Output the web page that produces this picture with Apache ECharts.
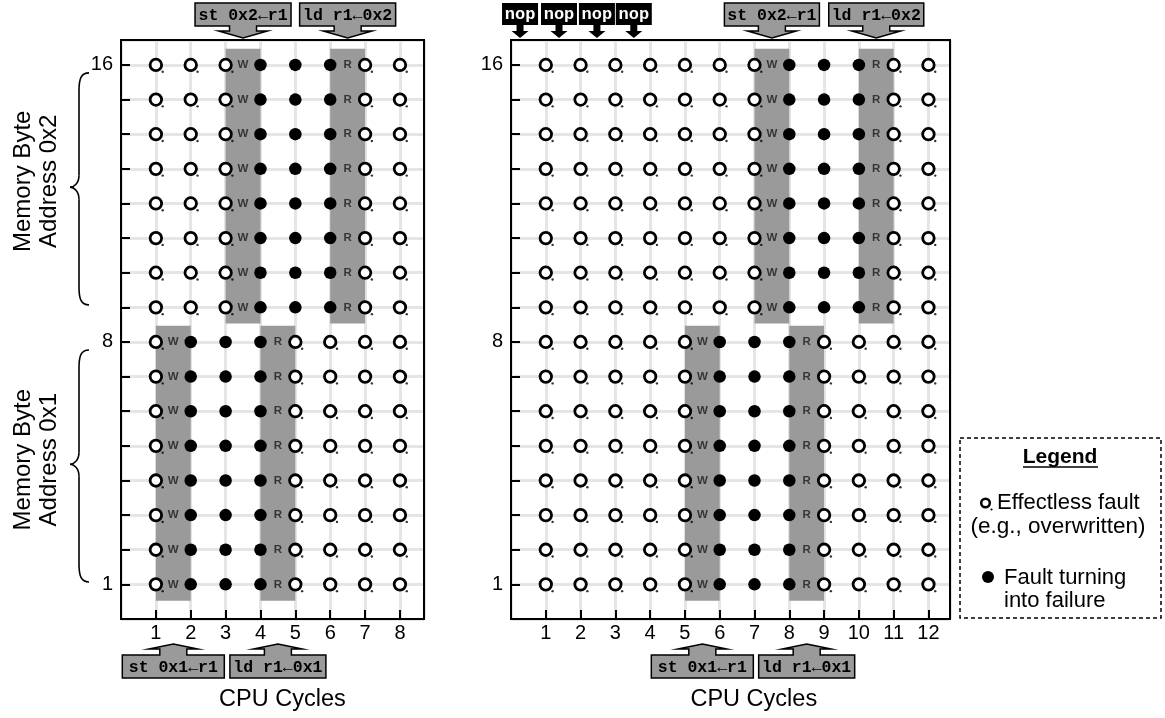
<!DOCTYPE html>
<html><head><meta charset="utf-8">
<script src="https://cdn.jsdelivr.net/npm/echarts@6/dist/echarts.min.js"></script>
<style>html,body{margin:0;padding:0;background:#fff}#c{width:1165px;height:718px}</style>
</head><body><div id="c"></div>
<script>
// ---------- data ----------
const rowsLow = [1, 2, 3, 4, 5, 6, 7, 8];          // memory byte address 0x1 bits
const rowsHigh = [9, 10, 11, 12, 13, 14, 15, 16];  // memory byte address 0x2 bits
const yTickLabels = [1, 8, 16];

// left panel (8 cycles)
const leftCycles = [1, 2, 3, 4, 5, 6, 7, 8];
const leftHighOpen = [1, 2, 3, 7, 8];
const leftHighFilled = [4, 5, 6];
const leftLowOpen = [1, 5, 6, 7, 8];
const leftLowFilled = [2, 3, 4];
const leftWindows = [[3, 4, 'high', 'W'], [6, 7, 'high', 'R'], [1, 2, 'low', 'W'], [4, 5, 'low', 'R']];
const leftTopInstr = [['st 0x2\u2190r1', 3.5], ['ld r1\u21900x2', 6.5]];
const leftBottomInstr = [['st 0x1\u2190r1', 1.5], ['ld r1\u21900x1', 4.5]];

// right panel (12 cycles, 4 nops first)
const rightCycles = [1, 2, 3, 4, 5, 6, 7, 8, 9, 10, 11, 12];
const rightHighOpen = [1, 2, 3, 4, 5, 6, 7, 11, 12];
const rightHighFilled = [8, 9, 10];
const rightLowOpen = [1, 2, 3, 4, 5, 9, 10, 11, 12];
const rightLowFilled = [6, 7, 8];
const rightWindows = [[7, 8, 'high', 'W'], [10, 11, 'high', 'R'], [5, 6, 'low', 'W'], [8, 9, 'low', 'R']];
const rightTopInstr = [['st 0x2\u2190r1', 7.5], ['ld r1\u21900x2', 10.5]];
const rightBottomInstr = [['st 0x1\u2190r1', 5.5], ['ld r1\u21900x1', 8.5]];
const nopX = [0.26, 1.38, 2.47, 3.53];

// shaded window vertical extents
const bandY = { high: [8.53, 16.47], low: [0.53, 8.47] };
const yMax = 16.72;
const xMaxes = [8.69, 12.62];

// ---------- build ----------
const SANS = 'Liberation Sans, Arial, sans-serif';
const MONO = 'Liberation Mono, Courier New, monospace';

function grid(cols, rows) { const out = []; rows.forEach(r => cols.forEach(c => out.push([c, r]))); return out; }
function winRects(wins) { return wins.map(w => [w[0], w[1], bandY[w[2]][0], bandY[w[2]][1]]); }
function winLabels(wins) {
  const out = [];
  wins.forEach(w => (w[2] === 'high' ? rowsHigh : rowsLow).forEach(r => out.push([(w[0] + w[1]) / 2, r, w[3]])));
  return out;
}

function panelSeries(g, highOpen, highFilled, lowOpen, lowFilled, wins) {
  const open = grid(highOpen, rowsHigh).concat(grid(lowOpen, rowsLow));
  const filled = grid(highFilled, rowsHigh).concat(grid(lowFilled, rowsLow));
  return [
    {
      type: 'custom', xAxisIndex: g, yAxisIndex: g, silent: true, z: 2,
      dimensions: ['x0', 'x1', 'y0', 'y1'], encode: { x: [0, 1], y: [2, 3] },
      data: winRects(wins),
      renderItem(params, api) {
        const a = api.coord([api.value(0), api.value(3)]);
        const b = api.coord([api.value(1), api.value(2)]);
        return { type: 'rect', shape: { x: a[0], y: a[1], width: b[0] - a[0], height: b[1] - a[1] }, style: { fill: '#9a9a9a' } };
      }
    },
    {
      type: 'scatter', xAxisIndex: g, yAxisIndex: g, silent: true, z: 3, data: open,
      symbol: 'circle', symbolSize: 2.4, symbolOffset: [6.8, 6.8], itemStyle: { color: '#000' }
    },
    {
      type: 'scatter', xAxisIndex: g, yAxisIndex: g, silent: true, z: 4, data: open,
      symbol: 'circle', symbolSize: 11.5, itemStyle: { color: '#fff', borderColor: '#000', borderWidth: 2.8, opacity: 1 }
    },
    {
      type: 'scatter', xAxisIndex: g, yAxisIndex: g, silent: true, z: 4, data: filled,
      symbol: 'circle', symbolSize: 12.5, itemStyle: { color: '#000', opacity: 1 }
    },
    {
      type: 'scatter', xAxisIndex: g, yAxisIndex: g, silent: true, z: 5, data: winLabels(wins),
      symbol: 'circle', symbolSize: 1, itemStyle: { color: 'rgba(0,0,0,0)' },
      label: { show: true, position: 'inside', formatter: p => p.value[2], fontFamily: SANS, fontWeight: 'bold', fontSize: 11.5, color: '#1a1a1a' }
    }
  ];
}

function xAxis(g, cycles) {
  return {
    gridIndex: g, type: 'value', min: 0, max: xMaxes[g], interval: 1,
    axisLine: { show: false },
    axisTick: { show: true, inside: true, length: 9, lineStyle: { color: '#000', width: 2 } },
    axisLabel: { formatter: v => cycles.includes(v) ? String(v) : '', fontFamily: SANS, fontSize: 20, color: '#000', margin: 4 },
    splitLine: { show: true, lineStyle: { color: '#e5e5e5', width: 3 } }
  };
}
function yAxis(g) {
  return {
    gridIndex: g, type: 'value', min: 0, max: yMax, interval: 1,
    axisLine: { show: false },
    axisTick: { show: true, inside: true, length: 9, lineStyle: { color: '#000', width: 2 } },
    axisLabel: { formatter: v => yTickLabels.includes(v) ? String(v) : '', fontFamily: SANS, fontSize: 20, color: '#000', margin: 8 },
    splitLine: { show: true, lineStyle: { color: '#e5e5e5', width: 3 } }
  };
}

const chart = echarts.init(document.getElementById('c'), null, { renderer: 'canvas' });
chart.setOption({
  animation: false,
  backgroundColor: '#fff',
  grid: [
    { left: 121, top: 40, width: 303, height: 579, outerBoundsMode: 'none' },
    { left: 511, top: 40, width: 439, height: 579, outerBoundsMode: 'none' }
  ],
  xAxis: [xAxis(0, leftCycles), xAxis(1, rightCycles)],
  yAxis: [yAxis(0), yAxis(1)],
  series: [].concat(
    panelSeries(0, leftHighOpen, leftHighFilled, leftLowOpen, leftLowFilled, leftWindows),
    panelSeries(1, rightHighOpen, rightHighFilled, rightLowOpen, rightLowFilled, rightWindows)
  )
});

// ---------- annotations (positioned through the axes) ----------
const P = (g, x, y) => chart.convertToPixel({ gridIndex: g }, [x, y]);
const G = [];

[0, 1].forEach(g => {
  const a = P(g, 0, yMax), b = P(g, xMaxes[g], 0);
  G.push({ type: 'rect', z: 100, shape: { x: a[0], y: a[1], width: b[0] - a[0], height: b[1] - a[1] },
    style: { fill: null, stroke: '#000', lineWidth: 2 } });
});

function downBox(g, x, text, w) {
  const top = P(g, 0, yMax)[1];
  const cx = P(g, x, 0)[0];
  const y0 = top - 37, y1 = top - 14, s = 13.5, h = 24.5;
  const pts = [[cx - w / 2, y0], [cx + w / 2, y0], [cx + w / 2, y1], [cx + s, y1], [cx + s, y1 + 5], [cx + h, y1 + 5],
    [cx, top - 2], [cx - h, y1 + 5], [cx - s, y1 + 5], [cx - s, y1], [cx - w / 2, y1]];
  G.push({ type: 'polygon', z: 50, shape: { points: pts }, style: { fill: '#9a9a9a', stroke: '#000', lineWidth: 1.5 } });
  G.push({ type: 'text', z: 51, x: cx, y: (y0 + y1) / 2 + 1, style: { text, font: 'bold 16.5px ' + MONO, fill: '#000', align: 'center', verticalAlign: 'middle' } });
}
function upBox(g, x, text, w) {
  const bot = P(g, 0, 0)[1];
  const cx = P(g, x, 0)[0];
  const tip = bot + 25, hb = tip + 5, y0 = bot + 36, y1 = bot + 59, s = 13.5, h = 24.5;
  const pts = [[cx, tip], [cx + h, hb], [cx + s, hb], [cx + s, y0], [cx + w / 2, y0], [cx + w / 2, y1], [cx - w / 2, y1],
    [cx - w / 2, y0], [cx - s, y0], [cx - s, hb], [cx - h, hb]];
  G.push({ type: 'polygon', z: 50, shape: { points: pts }, style: { fill: '#9a9a9a', stroke: '#000', lineWidth: 1.5 } });
  G.push({ type: 'text', z: 51, x: cx, y: (y0 + y1) / 2 + 1, style: { text, font: 'bold 16.5px ' + MONO, fill: '#000', align: 'center', verticalAlign: 'middle' } });
}
function nopBox(g, x) {
  const top = P(g, 0, yMax)[1];
  const cx = P(g, x, 0)[0];
  const y0 = top - 37, y1 = top - 15, w = 36, s = 3.5, h = 8.5;
  G.push({ type: 'rect', z: 50, shape: { x: cx - w / 2, y: y0, width: w, height: y1 - y0 }, style: { fill: '#000' } });
  G.push({ type: 'polygon', z: 50, shape: { points: [[cx - s, y1 - 1], [cx + s, y1 - 1], [cx + s, y1 + 6], [cx + h, y1 + 6], [cx, top - 2], [cx - h, y1 + 6], [cx - s, y1 + 6]] }, style: { fill: '#000' } });
  G.push({ type: 'text', z: 51, x: cx, y: (y0 + y1) / 2 + 1, style: { text: 'nop', font: 'bold 17px ' + MONO, fill: '#fff', align: 'center', verticalAlign: 'middle' } });
}

leftTopInstr.forEach(d => downBox(0, d[1], d[0], 96));
rightTopInstr.forEach(d => downBox(1, d[1], d[0], 95));
leftBottomInstr.forEach((d, i) => upBox(0, d[1], d[0], i === 0 ? 102 : 96));
rightBottomInstr.forEach((d, i) => upBox(1, d[1], d[0], i === 0 ? 102 : 96));
nopX.forEach(x => nopBox(1, x));

// braces (two straight runs + four curves) and y titles
function brace(yTop, yBot, yMid) {
  const left = P(0, 0, 0)[0];
  const y1 = P(0, 0, yTop)[1], y2 = P(0, 0, yBot)[1], ym = P(0, 0, yMid)[1];
  const xr = left - 32, xv = left - 42, xt = left - 51;
  const st = { fill: null, stroke: '#000', lineWidth: 1.6 };
  G.push({ type: 'bezierCurve', z: 50, shape: { x1: xr, y1: y1, cpx1: xv + 2, cpy1: y1, cpx2: xv, cpy2: y1 + 6, x2: xv, y2: y1 + 18 }, style: st });
  G.push({ type: 'line', z: 50, shape: { x1: xv, y1: y1 + 18, x2: xv, y2: ym - 12 }, style: st });
  G.push({ type: 'bezierCurve', z: 50, shape: { x1: xv, y1: ym - 12, cpx1: xv, cpy1: ym - 4, cpx2: xt + 4, cpy2: ym, x2: xt, y2: ym }, style: st });
  G.push({ type: 'bezierCurve', z: 50, shape: { x1: xt, y1: ym, cpx1: xt + 4, cpy1: ym, cpx2: xv, cpy2: ym + 4, x2: xv, y2: ym + 12 }, style: st });
  G.push({ type: 'line', z: 50, shape: { x1: xv, y1: ym + 12, x2: xv, y2: y2 - 18 }, style: st });
  G.push({ type: 'bezierCurve', z: 50, shape: { x1: xv, y1: y2 - 18, cpx1: xv, cpy1: y2 - 6, cpx2: xv + 2, cpy2: y2, x2: xr, y2: y2 }, style: st });
}
brace(15.77, 9.07, 12.47);
brace(7.77, 1.07, 4.47);
[['Memory Byte\nAddress 0x2', 12.64], ['Memory Byte\nAddress 0x1', 4.6]].forEach(d => {
  const y = P(0, 0, d[1])[1];
  G.push({ type: 'text', z: 50, x: 36, y, rotation: Math.PI / 2,
    style: { text: d[0], font: '24px ' + SANS, lineHeight: 26, fill: '#000', align: 'center', verticalAlign: 'middle' } });
});
// x titles
[[0, 4.63], [1, 6.98]].forEach(d => {
  const p = P(d[0], d[1], 0);
  G.push({ type: 'text', z: 50, x: p[0], y: p[1] + 81, style: { text: 'CPU Cycles', font: '23.5px ' + SANS, fill: '#000', align: 'center', verticalAlign: 'middle' } });
});

// legend box
G.push({ type: 'rect', z: 50, shape: { x: 960, y: 438, width: 201, height: 180 }, style: { fill: '#fff', stroke: '#000', lineWidth: 1.5, lineDash: [4, 3] } });
G.push({ type: 'text', z: 51, x: 1060, y: 457, style: { text: 'Legend', font: 'bold 21px ' + SANS, fill: '#000', align: 'center', verticalAlign: 'middle' } });
G.push({ type: 'line', z: 51, shape: { x1: 1023, y1: 467, x2: 1098, y2: 467 }, style: { stroke: '#000', lineWidth: 1.5 } });
G.push({ type: 'circle', z: 51, shape: { cx: 991.5, cy: 509.5, r: 1.1 }, style: { fill: '#000' } });
G.push({ type: 'circle', z: 52, shape: { cx: 985.5, cy: 503, r: 4.3 }, style: { fill: '#fff', stroke: '#000', lineWidth: 2.5 } });
G.push({ type: 'text', z: 51, x: 997, y: 503, style: { text: 'Effectless fault', font: '22px ' + SANS, fill: '#000', align: 'left', verticalAlign: 'middle' } });
G.push({ type: 'text', z: 51, x: 1058, y: 527, style: { text: '(e.g., overwritten)', font: '22.5px ' + SANS, fill: '#000', align: 'center', verticalAlign: 'middle' } });
G.push({ type: 'circle', z: 51, shape: { cx: 988, cy: 577, r: 6 }, style: { fill: '#000' } });
G.push({ type: 'text', z: 51, x: 1004, y: 578, style: { text: 'Fault turning', font: '22px ' + SANS, fill: '#000', align: 'left', verticalAlign: 'middle' } });
G.push({ type: 'text', z: 51, x: 1004, y: 601, style: { text: 'into failure', font: '22px ' + SANS, fill: '#000', align: 'left', verticalAlign: 'middle' } });

chart.setOption({ graphic: { elements: G } });
</script></body></html>
